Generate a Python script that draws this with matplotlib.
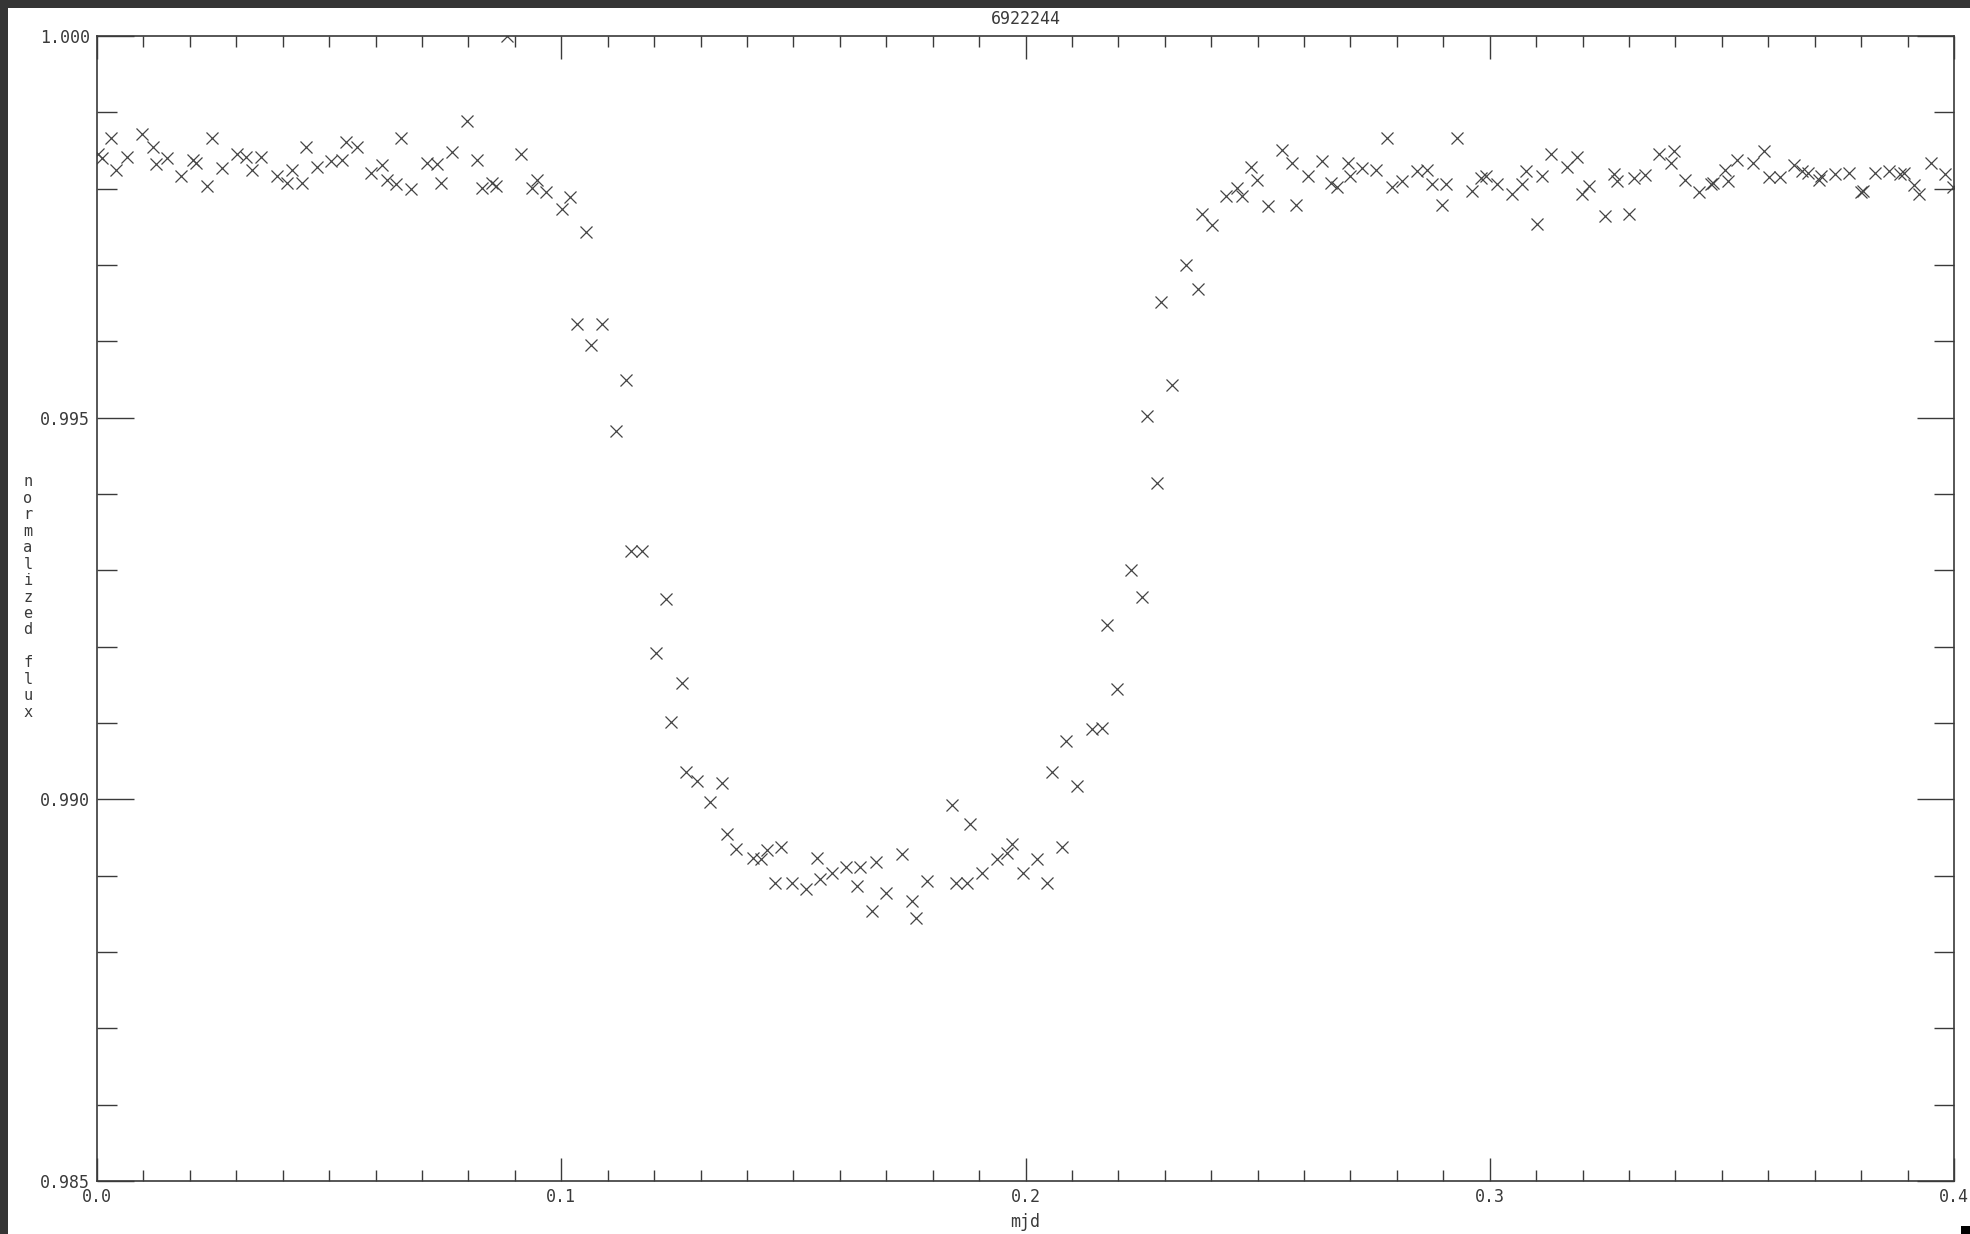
import matplotlib
matplotlib.use("Agg")
import matplotlib.pyplot as plt
from matplotlib.patches import Rectangle
from matplotlib.ticker import MultipleLocator

# light curve of 6922244, folded around the transit
mjd = [0.0002, 0.0010, 0.0030, 0.0041, 0.0065, 0.0097, 0.0121, 0.0127, 0.0151, 0.0181,
       0.0207, 0.0213, 0.0237, 0.0248, 0.0269, 0.0302, 0.0321, 0.0334, 0.0353, 0.0388,
       0.0409, 0.0420, 0.0442, 0.0450, 0.0474, 0.0504, 0.0528, 0.0537, 0.0560, 0.0591,
       0.0614, 0.0625, 0.0644, 0.0655, 0.0677, 0.0711, 0.0733, 0.0741, 0.0765, 0.0797,
       0.0819, 0.0830, 0.0851, 0.0860, 0.0884, 0.0914, 0.0938, 0.0948, 0.0968, 0.1002,
       0.1019, 0.1034, 0.1054, 0.1065, 0.1088, 0.1119, 0.1140, 0.1151, 0.1174, 0.1205,
       0.1226, 0.1237, 0.1261, 0.1269, 0.1293, 0.1321, 0.1347, 0.1356, 0.1377, 0.1412,
       0.1431, 0.1444, 0.1461, 0.1474, 0.1498, 0.1528, 0.1550, 0.1558, 0.1584, 0.1614,
       0.1638, 0.1644, 0.1670, 0.1679, 0.1700, 0.1735, 0.1756, 0.1765, 0.1787, 0.1841,
       0.1851, 0.1875, 0.1881, 0.1907, 0.1938, 0.1961, 0.1970, 0.1994, 0.2024, 0.2047,
       0.2058, 0.2078, 0.2088, 0.2110, 0.2144, 0.2164, 0.2175, 0.2198, 0.2228, 0.2250,
       0.2261, 0.2284, 0.2291, 0.2315, 0.2345, 0.2371, 0.2381, 0.2401, 0.2431, 0.2455,
       0.2466, 0.2485, 0.2498, 0.2522, 0.2552, 0.2573, 0.2582, 0.2608, 0.2638, 0.2659,
       0.2670, 0.2694, 0.2698, 0.2724, 0.2754, 0.2778, 0.2789, 0.2810, 0.2843, 0.2864,
       0.2875, 0.2897, 0.2905, 0.2929, 0.2961, 0.2981, 0.2991, 0.3015, 0.3047, 0.3069,
       0.3078, 0.3101, 0.3112, 0.3131, 0.3166, 0.3188, 0.3198, 0.3213, 0.3248, 0.3267,
       0.3274, 0.3299, 0.3310, 0.3334, 0.3365, 0.3390, 0.3397, 0.3420, 0.3450, 0.3476,
       0.3480, 0.3506, 0.3513, 0.3533, 0.3568, 0.3590, 0.3601, 0.3626, 0.3656, 0.3673,
       0.3686, 0.3709, 0.3713, 0.3743, 0.3774, 0.3799, 0.3804, 0.3830, 0.3860, 0.3884,
       0.3892, 0.3914, 0.3924, 0.3950, 0.3981, 0.3998]

flux = [0.99845, 0.99840, 0.99866, 0.99825, 0.99841, 0.99871, 0.99854, 0.99832, 0.99840, 0.99816,
        0.99837, 0.99833, 0.99803, 0.99866, 0.99827, 0.99845, 0.99841, 0.99824, 0.99842, 0.99816,
        0.99808, 0.99824, 0.99808, 0.99855, 0.99828, 0.99836, 0.99838, 0.99861, 0.99854, 0.99820,
        0.99831, 0.99812, 0.99806, 0.99866, 0.99799, 0.99834, 0.99832, 0.99808, 0.99848, 0.99888,
        0.99837, 0.99801, 0.99808, 0.99803, 1.00000, 0.99845, 0.99801, 0.99812, 0.99795, 0.99773,
        0.99789, 0.99623, 0.99743, 0.99595, 0.99623, 0.99483, 0.99550, 0.99325, 0.99325, 0.99192,
        0.99262, 0.99101, 0.99153, 0.99036, 0.99024, 0.98996, 0.99021, 0.98955, 0.98935, 0.98923,
        0.98922, 0.98934, 0.98891, 0.98937, 0.98890, 0.98883, 0.98923, 0.98896, 0.98904, 0.98912,
        0.98887, 0.98912, 0.98854, 0.98918, 0.98877, 0.98929, 0.98867, 0.98844, 0.98893, 0.98993,
        0.98891, 0.98890, 0.98968, 0.98904, 0.98922, 0.98930, 0.98942, 0.98904, 0.98922, 0.98891,
        0.99036, 0.98937, 0.99077, 0.99017, 0.99092, 0.99094, 0.99228, 0.99144, 0.99300, 0.99265,
        0.99502, 0.99414, 0.99652, 0.99543, 0.99700, 0.99668, 0.99767, 0.99752, 0.99791, 0.99801,
        0.99790, 0.99829, 0.99812, 0.99777, 0.99851, 0.99833, 0.99778, 0.99816, 0.99836, 0.99808,
        0.99802, 0.99833, 0.99816, 0.99827, 0.99824, 0.99867, 0.99802, 0.99810, 0.99823, 0.99824,
        0.99806, 0.99778, 0.99806, 0.99867, 0.99797, 0.99814, 0.99816, 0.99806, 0.99793, 0.99806,
        0.99823, 0.99754, 0.99816, 0.99845, 0.99828, 0.99842, 0.99793, 0.99803, 0.99764, 0.99819,
        0.99810, 0.99767, 0.99814, 0.99818, 0.99846, 0.99833, 0.99849, 0.99811, 0.99795, 0.99806,
        0.99808, 0.99824, 0.99810, 0.99837, 0.99833, 0.99849, 0.99815, 0.99815, 0.99831, 0.99823,
        0.99821, 0.99812, 0.99816, 0.99819, 0.99820, 0.99795, 0.99797, 0.99821, 0.99823, 0.99819,
        0.99821, 0.99805, 0.99793, 0.99834, 0.99819, 0.99802]

titre = "6922244"
xlabel = "mjd"
ylabel = "normalized flux"

INK = "#3a3a3a"
plt.rcParams["font.family"] = ["DejaVu Sans Mono"]

fig = plt.figure(figsize=(19.70, 12.34), dpi=100)
fig.patch.set_facecolor("white")

# bandes sombres en haut et a gauche
fig.patches.append(Rectangle((0, 1 - 8 / 1234), 1, 8 / 1234, transform=fig.transFigure,
                             facecolor="#353535", edgecolor="none", zorder=0))
fig.patches.append(Rectangle((0, 0), 8 / 1970, 1, transform=fig.transFigure,
                             facecolor="#353535", edgecolor="none", zorder=0))
fig.patches.append(Rectangle((1 - 9 / 1970, 0), 9 / 1970, 8 / 1234, transform=fig.transFigure,
                             facecolor="black", edgecolor="none", zorder=0))

ax = fig.add_axes([97 / 1970, 53 / 1234, 1857 / 1970, 1145 / 1234])
ax.plot(mjd, flux, linestyle="none", marker="x", markersize=8,
        markeredgewidth=0.9, color="#444444")

ax.set_xlim(0.0, 0.4)
ax.set_ylim(0.985, 1.000)

ax.xaxis.set_major_locator(MultipleLocator(0.1))
ax.xaxis.set_minor_locator(MultipleLocator(0.01))
ax.yaxis.set_major_locator(MultipleLocator(0.005))
ax.yaxis.set_minor_locator(MultipleLocator(0.001))
ax.xaxis.set_major_formatter(plt.FuncFormatter(lambda v, p: "%.1f" % v))
ax.yaxis.set_major_formatter(plt.FuncFormatter(lambda v, p: "%.3f" % v))

ax.tick_params(axis="both", which="both", direction="in", top=True, right=True,
               color=INK, width=1.0, labelcolor=INK, labelsize=12)
ax.tick_params(axis="x", which="major", length=16.5, pad=5)
ax.tick_params(axis="x", which="minor", length=8)
ax.tick_params(axis="y", which="major", length=26.5, pad=5)
ax.tick_params(axis="y", which="minor", length=14.4)

for s in ax.spines.values():
    s.set_color(INK)
    s.set_linewidth(1.2)

cx = (97 + 1954) / 2 / 1970
fig.text(cx, 1 - 19 / 1234, titre, ha="center", va="center", fontsize=12, color=INK)
fig.text(cx, 1 - 1222 / 1234, xlabel, ha="center", va="center", fontsize=12, color=INK)
# etiquette verticale, une lettre par ligne
fig.text(28 / 1970, 1 - 597 / 1234, "\n".join(ylabel), ha="center", va="center",
         fontsize=11, color=INK, linespacing=1.12)

fig.savefig("out.png", dpi=100)
